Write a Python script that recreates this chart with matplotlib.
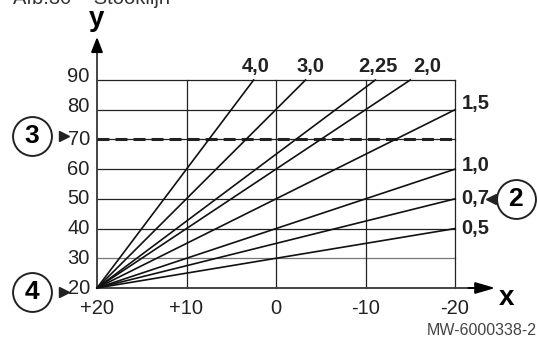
import numpy as np
import matplotlib
matplotlib.use("Agg")
import matplotlib.pyplot as plt

plt.rcParams['font.family'] = ['Liberation Sans', 'DejaVu Sans']

# heating curves: all start at (+20, 20)
curve_labels = ['4,0', '3,0', '2,25', '2,0', '1,5', '1,0', '0,7', '0,5']
end_x = [2.5, -3.3, -11.1, -15.0, -20, -20, -20, -20]
end_y = [90, 90, 90, 90, 80, 60, 50, 40]
start_x, start_y = 20, 20

x_ticks = [20, 10, 0, -10, -20]
x_ticklabels = ['+20', '+10', '0', '-10', '-20']
y_ticks = [20, 30, 40, 50, 60, 70, 80, 90]
dashed_level = 70

fig = plt.figure(figsize=(5.38, 3.40), dpi=100)
ax = fig.add_axes([97/538, 1-288/340, (455-97)/538, (288-80)/340])
ax.set_xlim(20, -20)
ax.set_ylim(20, 90)
ax.axis('off')

# grid
for yv in y_ticks[1:]:
    ax.plot([20, -20], [yv, yv], color='#777777' if yv == 30 else '#222222',
            lw=0.9, clip_on=False)
for xv in x_ticks[1:]:
    ax.plot([xv, xv], [20, 90], color='#222222', lw=0.9, clip_on=False)

# axes with arrows
ax.plot([20, 20], [20, 101], color='#444444', lw=1.4, clip_on=False)
ax.plot([20, -22], [20, 20], color='#444444', lw=1.4, clip_on=False)
ax.annotate('', xy=(20, 104.5), xytext=(20, 100), annotation_clip=False,
            arrowprops=dict(arrowstyle='-|>,head_length=0.9,head_width=0.35',
                            color='black', lw=1.4, shrinkA=0, shrinkB=0))
ax.annotate('', xy=(-24.5, 20), xytext=(-21.5, 20), annotation_clip=False,
            arrowprops=dict(arrowstyle='-|>,head_length=1.2,head_width=0.35',
                            color='black', lw=1.4, shrinkA=0, shrinkB=0))
ax.text(20, 106, 'y', fontsize=20, fontweight='bold', ha='center', va='bottom')
ax.text(-25.8, 16.6, 'x', fontsize=20, fontweight='bold', ha='center', va='center')

# tick labels
for yv in y_ticks:
    off = 1.2 if yv >= 80 else 0
    ax.text(20.8, yv + off, str(yv), fontsize=14.5, ha='right', va='center',
            color='#222222')
for xv, lab in zip(x_ticks, x_ticklabels):
    ax.text(xv, 16.2, lab, fontsize=14.5, ha='center', va='top', color='#222222')

# dashed line
ax.plot([20, -20], [dashed_level, dashed_level], color='#222222', lw=2.2,
        dashes=(3.9, 2.0), clip_on=False)

# curves
for lab, xe, ye in zip(curve_labels, end_x, end_y):
    ax.plot([start_x, xe], [start_y, ye], color='#111111', lw=1.2, clip_on=False)

top_dx = [-0.2, -0.5, -0.3, -1.9]
for lab, xe, dx in zip(curve_labels[:4], end_x[:4], top_dx):
    ax.text(xe + dx, 91.5, lab, fontsize=14.5, fontweight='bold', ha='center',
            va='bottom', color='#222222')
right_dy = [2.0, 1.2, 0, 0]
for lab, ye, dy in zip(curve_labels[4:], end_y[4:], right_dy):
    ax.text(-20.7, ye + dy, lab, fontsize=14.5, fontweight='bold', ha='left',
            va='center', color='#222222')

# numbered markers
def badge(x, y, num, tri_x, tri_marker):
    ax.plot(x, y, 'o', ms=28, mfc='white', mec='#222222', mew=1.4, clip_on=False)
    ax.text(x, y, num, fontsize=19, fontweight='bold', ha='center', va='center')
    ax.plot(tri_x, y, tri_marker, ms=7, color='#222222', clip_on=False)

badge(27.3, 71.2, '3', 23.7, '>')
badge(27.3, 18.8, '4', 23.7, '>')
badge(-26.8, 49.8, '2', -24.0, '<')

fig.text(13/538, 0.988, 'Afb.30 \u2013 Stooklijn', fontsize=14.5, color='#333333',
         ha='left', va='baseline')
fig.text(537/538, 5/340, 'MW-6000338-2', fontsize=11.5, color='#444444',
         ha='right', va='baseline')

fig.savefig('out.png', dpi=100)
